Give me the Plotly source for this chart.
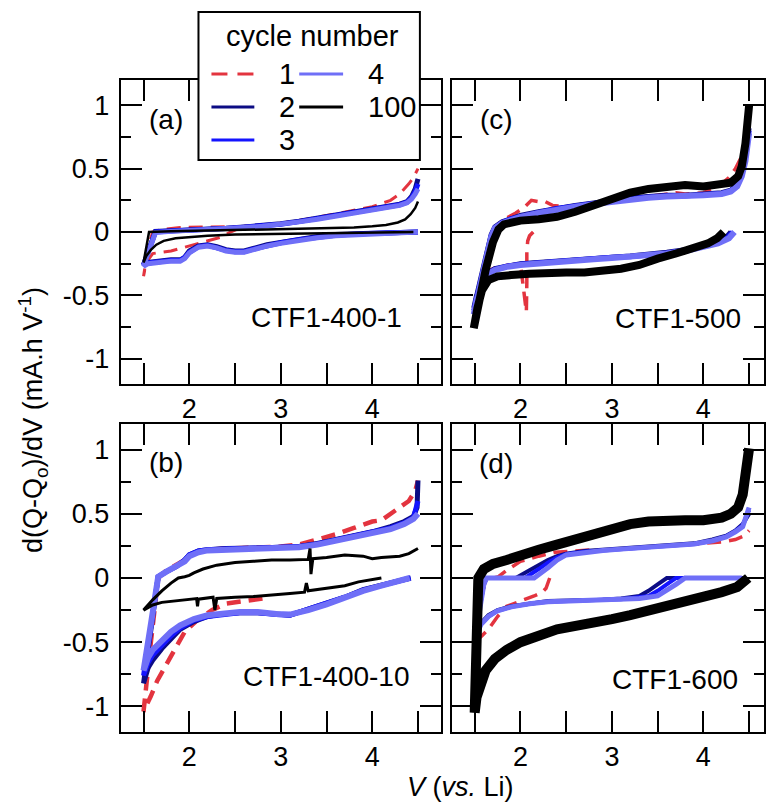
import plotly.graph_objects as go

W, H = 766, 804

# ---------------- data ----------------
x_tick_vals = [2, 3, 4]
x_tick_text = ["2", "3", "4"]
x_minor_vals = [1.5, 2.5, 3.5, 4.5]
y_tick_vals = [-1, -0.5, 0, 0.5, 1]
y_tick_text = ["-1", "-0.5", "0", "0.5", "1"]
y_minor_vals = [-0.75, -0.25, 0.25, 0.75]

cycles = ["1", "2", "3", "4", "100"]
panel_names = ["CTF1-400-1", "CTF1-500", "CTF1-400-10", "CTF1-600"]
panel_tags = ["(a)", "(c)", "(b)", "(d)"]

# ---- Panel (a) CTF1-400-1 ----
a1_v = [2.55, 2.45, 2.35, 2.2, 2.05, 1.9, 1.8, 1.7, 1.6, 1.53, 1.5,
        1.55, 1.6, 1.7, 1.9, 2.2, 2.6, 2.9, 3.2, 3.5, 3.8, 4.0, 4.2, 4.3, 4.4, 4.45, 4.5]
a1_y = [0.03, 0.0, -0.04, -0.07, -0.1, -0.13, -0.15, -0.16, -0.17, -0.24, -0.35,
        -0.12, 0.0, 0.02, 0.035, 0.04, 0.045, 0.06, 0.09, 0.13, 0.17, 0.2, 0.25, 0.3, 0.38, 0.43, 0.5]
a2_v = [4.5, 4.2, 3.9, 3.6, 3.4, 3.2, 3.0, 2.85, 2.7, 2.6, 2.5, 2.4, 2.3, 2.2, 2.1, 2.0, 1.95, 1.9, 1.8, 1.7, 1.6, 1.55, 1.5,
        1.55, 1.6, 1.63, 1.8, 2.0, 2.2, 2.4, 2.6, 2.8, 3.0, 3.2, 3.4, 3.6, 3.8, 4.0, 4.2, 4.3, 4.38, 4.43, 4.47, 4.5]
a2_y = [0.0, -0.005, -0.01, -0.02, -0.035, -0.055, -0.08, -0.1, -0.13, -0.15, -0.15, -0.14, -0.115, -0.1, -0.11, -0.15, -0.2, -0.22, -0.22, -0.23, -0.23, -0.24, -0.26,
        -0.15, -0.03, 0.005, 0.01, 0.015, 0.02, 0.03, 0.04, 0.05, 0.065, 0.085, 0.11, 0.13, 0.155, 0.18, 0.2, 0.22, 0.24, 0.28, 0.34, 0.42]
a3_v = [4.5, 4.2, 3.9, 3.6, 3.4, 3.2, 3.0, 2.85, 2.7, 2.6, 2.5, 2.4, 2.3, 2.2, 2.1, 2.0, 1.95, 1.9, 1.8, 1.7, 1.6, 1.55, 1.5,
        1.55, 1.6, 1.63, 1.8, 2.0, 2.2, 2.4, 2.6, 2.8, 3.0, 3.2, 3.4, 3.6, 3.8, 4.0, 4.2, 4.3, 4.38, 4.43, 4.47, 4.5]
a3_y = [0.0, -0.005, -0.012, -0.025, -0.04, -0.06, -0.085, -0.105, -0.135, -0.155, -0.155, -0.145, -0.12, -0.105, -0.115, -0.16, -0.2, -0.225, -0.225, -0.23, -0.235, -0.245, -0.26,
        -0.16, -0.04, 0.0, 0.008, 0.012, 0.018, 0.028, 0.038, 0.048, 0.062, 0.082, 0.105, 0.128, 0.15, 0.175, 0.195, 0.215, 0.235, 0.27, 0.32, 0.38]
a4_v = [4.5, 4.2, 3.9, 3.6, 3.4, 3.2, 3.0, 2.85, 2.7, 2.6, 2.5, 2.4, 2.3, 2.2, 2.1, 2.0, 1.95, 1.9, 1.8, 1.7, 1.6, 1.55, 1.5,
        1.55, 1.6, 1.63, 1.8, 2.0, 2.2, 2.4, 2.6, 2.8, 3.0, 3.2, 3.4, 3.6, 3.8, 4.0, 4.2, 4.3, 4.38, 4.43, 4.47, 4.5]
a4_y = [0.0, -0.008, -0.015, -0.03, -0.045, -0.065, -0.09, -0.11, -0.14, -0.16, -0.16, -0.15, -0.125, -0.11, -0.12, -0.165, -0.21, -0.23, -0.23, -0.235, -0.24, -0.25, -0.27,
        -0.17, -0.05, -0.005, 0.005, 0.01, 0.015, 0.025, 0.035, 0.045, 0.06, 0.08, 0.1, 0.125, 0.148, 0.17, 0.19, 0.21, 0.23, 0.26, 0.3, 0.34]
a100_v = [4.45, 4.0, 3.5, 3.0, 2.5, 2.2, 2.0, 1.85, 1.72, 1.64, 1.58, 1.53, 1.5,
          1.56, 1.8, 2.2, 2.6, 3.0, 3.4, 3.8, 4.0, 4.15, 4.28, 4.36, 4.42, 4.47, 4.5]
a100_y = [0.0, -0.005, -0.01, -0.015, -0.02, -0.03, -0.04, -0.05, -0.07, -0.1, -0.14, -0.19, -0.24,
          0.0, 0.005, 0.01, 0.015, 0.02, 0.025, 0.035, 0.045, 0.055, 0.075, 0.1, 0.14, 0.19, 0.24]

# ---- Panel (c) CTF1-500 ----
c1_v = [2.14, 2.1, 2.08, 2.07, 2.07, 2.065, 2.0, 1.9, 1.8, 1.7, 1.62, 1.56, 1.52, 1.49,
        1.56, 1.62, 1.68, 1.75, 1.85, 1.95, 2.05, 2.12, 2.2, 2.27, 2.35, 2.5, 2.7, 2.9, 3.1, 3.3, 3.5, 3.7, 3.8, 4.0, 4.1, 4.2, 4.28, 4.35, 4.42, 4.47, 4.5]
c1_y = [0.0, -0.03, -0.07, -0.15, -0.4, -0.63, -0.25, -0.26, -0.27, -0.29, -0.33, -0.4, -0.5, -0.62,
        -0.4, -0.2, -0.02, 0.06, 0.11, 0.15, 0.2, 0.25, 0.24, 0.24, 0.21, 0.2, 0.22, 0.24, 0.25, 0.27, 0.29, 0.31, 0.3, 0.31, 0.34, 0.38, 0.43, 0.5, 0.6, 0.75, 0.93]
c2_v = [4.3, 4.25, 4.15, 4.0, 3.8, 3.6, 3.4, 3.2, 3.0, 2.8, 2.6, 2.4, 2.2, 2.0, 1.85, 1.72, 1.63, 1.57, 1.52, 1.49,
        1.55, 1.62, 1.68, 1.72, 1.8, 1.9, 2.0, 2.2, 2.4, 2.6, 2.8, 3.0, 3.2, 3.4, 3.6, 3.8, 4.0, 4.2, 4.3, 4.37, 4.42, 4.46, 4.5]
c2_y = [0.0, -0.04, -0.08, -0.11, -0.14, -0.16, -0.18, -0.19, -0.2, -0.21, -0.22, -0.23, -0.24, -0.25, -0.27, -0.29, -0.33, -0.4, -0.5, -0.6,
        -0.4, -0.2, -0.02, 0.04, 0.08, 0.11, 0.13, 0.16, 0.19, 0.21, 0.23, 0.25, 0.27, 0.28, 0.29, 0.29, 0.3, 0.31, 0.33, 0.38, 0.47, 0.6, 0.82]
c3_v = [4.32, 4.26, 4.15, 4.0, 3.8, 3.6, 3.4, 3.2, 3.0, 2.8, 2.6, 2.4, 2.2, 2.0, 1.85, 1.72, 1.63, 1.57, 1.52, 1.49,
        1.55, 1.62, 1.68, 1.72, 1.8, 1.9, 2.0, 2.2, 2.4, 2.6, 2.8, 3.0, 3.2, 3.4, 3.6, 3.8, 4.0, 4.2, 4.3, 4.37, 4.42, 4.46, 4.5]
c3_y = [0.0, -0.045, -0.085, -0.115, -0.145, -0.165, -0.18, -0.195, -0.2, -0.21, -0.22, -0.235, -0.245, -0.255, -0.27, -0.295, -0.33, -0.41, -0.52, -0.62,
        -0.42, -0.21, -0.03, 0.035, 0.075, 0.105, 0.125, 0.155, 0.185, 0.205, 0.225, 0.245, 0.265, 0.275, 0.285, 0.285, 0.295, 0.305, 0.325, 0.37, 0.45, 0.58, 0.8]
c4_v = [4.34, 4.28, 4.16, 4.0, 3.8, 3.6, 3.4, 3.2, 3.0, 2.8, 2.6, 2.4, 2.2, 2.0, 1.85, 1.72, 1.63, 1.57, 1.52, 1.49,
        1.55, 1.62, 1.68, 1.72, 1.8, 1.9, 2.0, 2.2, 2.4, 2.6, 2.8, 3.0, 3.2, 3.4, 3.6, 3.8, 4.0, 4.2, 4.3, 4.37, 4.42, 4.46, 4.5]
c4_y = [0.0, -0.05, -0.09, -0.12, -0.15, -0.17, -0.185, -0.2, -0.205, -0.215, -0.225, -0.24, -0.25, -0.26, -0.275, -0.3, -0.34, -0.42, -0.54, -0.65,
        -0.45, -0.23, -0.04, 0.03, 0.07, 0.1, 0.12, 0.15, 0.18, 0.2, 0.22, 0.24, 0.26, 0.27, 0.28, 0.28, 0.29, 0.3, 0.32, 0.36, 0.44, 0.56, 0.78]
c100_v = [4.22, 4.15, 4.05, 3.9, 3.7, 3.5, 3.3, 3.1, 2.9, 2.7, 2.5, 2.3, 2.1, 1.9, 1.75, 1.65, 1.58, 1.53, 1.49,
          1.55, 1.62, 1.7, 1.76, 1.82, 1.9, 2.0, 2.2, 2.4, 2.6, 2.8, 3.0, 3.2, 3.4, 3.6, 3.8, 4.0, 4.2, 4.3, 4.38, 4.42, 4.46, 4.5]
c100_y = [0.0, -0.05, -0.09, -0.13, -0.17, -0.21, -0.26, -0.29, -0.31, -0.32, -0.32, -0.32, -0.33, -0.34, -0.35, -0.38, -0.46, -0.6, -0.76,
          -0.55, -0.3, -0.08, 0.02, 0.06, 0.08, 0.09, 0.1, 0.12, 0.16, 0.21, 0.27, 0.31, 0.34, 0.36, 0.37, 0.36, 0.37, 0.39, 0.44, 0.52, 0.7, 1.0]

# ---- Panel (b) CTF1-400-10 ----
b1_v = [2.8, 2.7, 2.55, 2.4, 2.25, 2.1, 1.95, 1.85, 1.75, 1.65, 1.58, 1.5,
        1.58, 1.66, 1.75, 1.86, 1.95, 2.05, 2.2, 2.4, 2.6, 2.8, 3.0, 3.2, 3.4, 3.6, 3.8, 4.0, 4.1, 4.2, 4.3, 4.4, 4.47, 4.5]
b1_y = [-0.16, -0.17, -0.18, -0.2, -0.25, -0.32, -0.42, -0.55, -0.68, -0.8, -0.92, -1.04,
        -0.5, 0.0, 0.06, 0.1, 0.14, 0.19, 0.22, 0.23, 0.235, 0.24, 0.245, 0.26, 0.3, 0.34, 0.39, 0.44, 0.45, 0.5, 0.56, 0.6, 0.68, 0.76]
b2_v = [4.42, 4.3, 4.1, 3.9, 3.7, 3.5, 3.3, 3.1, 2.95, 2.75, 2.55, 2.35, 2.2, 2.05, 1.9, 1.8, 1.7, 1.6, 1.55, 1.5,
        1.58, 1.66, 1.75, 1.86, 1.95, 2.0, 2.1, 2.2, 2.4, 2.6, 2.8, 3.0, 3.2, 3.4, 3.6, 3.8, 4.0, 4.2, 4.35, 4.45, 4.49, 4.5]
b2_y = [0.0, -0.02, -0.05, -0.09, -0.15, -0.2, -0.24, -0.29, -0.28, -0.27, -0.27, -0.28, -0.3, -0.34, -0.4, -0.47, -0.55, -0.64, -0.7, -0.82,
        -0.4, 0.01, 0.05, 0.09, 0.14, 0.18, 0.21, 0.22, 0.23, 0.23, 0.235, 0.24, 0.245, 0.27, 0.3, 0.33, 0.36, 0.4, 0.44, 0.48, 0.55, 0.76]
b3_v = [4.42, 4.3, 4.1, 3.9, 3.7, 3.5, 3.3, 3.1, 2.95, 2.75, 2.55, 2.35, 2.2, 2.05, 1.9, 1.8, 1.7, 1.6, 1.55, 1.5,
        1.58, 1.66, 1.75, 1.86, 1.95, 2.0, 2.1, 2.2, 2.4, 2.6, 2.8, 3.0, 3.2, 3.4, 3.6, 3.8, 4.0, 4.2, 4.35, 4.45, 4.5]
b3_y = [0.0, -0.02, -0.055, -0.095, -0.15, -0.2, -0.245, -0.29, -0.285, -0.27, -0.27, -0.285, -0.3, -0.33, -0.39, -0.45, -0.52, -0.6, -0.66, -0.76,
        -0.38, 0.01, 0.05, 0.09, 0.14, 0.18, 0.21, 0.22, 0.225, 0.23, 0.235, 0.24, 0.245, 0.265, 0.295, 0.325, 0.355, 0.39, 0.43, 0.47, 0.6]
b4_v = [4.41, 4.3, 4.1, 3.9, 3.7, 3.5, 3.3, 3.1, 2.95, 2.75, 2.55, 2.35, 2.2, 2.05, 1.9, 1.8, 1.7, 1.6, 1.55, 1.5,
        1.58, 1.66, 1.75, 1.86, 1.95, 2.0, 2.1, 2.2, 2.4, 2.6, 2.8, 3.0, 3.2, 3.4, 3.6, 3.8, 4.0, 4.2, 4.35, 4.45, 4.5]
b4_y = [0.0, -0.025, -0.06, -0.1, -0.155, -0.205, -0.25, -0.285, -0.28, -0.265, -0.265, -0.275, -0.29, -0.32, -0.37, -0.42, -0.49, -0.56, -0.62, -0.72,
        -0.36, 0.01, 0.05, 0.09, 0.13, 0.17, 0.2, 0.215, 0.22, 0.225, 0.23, 0.235, 0.24, 0.26, 0.29, 0.32, 0.35, 0.38, 0.42, 0.46, 0.5]
b100_v = [4.1, 4.0, 3.85, 3.7, 3.5, 3.3, 3.28, 3.26, 3.1, 2.9, 2.7, 2.5, 2.3, 2.28, 2.26, 2.1, 2.09, 2.08, 1.9, 1.7, 1.6, 1.5,
          1.6, 1.7, 1.8, 1.88, 1.95, 2.0, 2.05, 2.15, 2.3, 2.5, 2.7, 2.9, 3.1, 3.3, 3.32, 3.33, 3.35, 3.5, 3.7, 3.9, 4.0, 4.1, 4.3, 4.4, 4.5]
b100_y = [0.0, -0.01, -0.03, -0.06, -0.08, -0.1, -0.04, -0.11, -0.12, -0.135, -0.145, -0.15, -0.16, -0.25, -0.15, -0.165, -0.22, -0.16, -0.175, -0.19, -0.21, -0.25,
          -0.17, -0.1, -0.04, 0.0, 0.01, 0.02, 0.04, 0.07, 0.1, 0.12, 0.13, 0.14, 0.14, 0.145, 0.23, 0.03, 0.15, 0.16, 0.18, 0.17, 0.15, 0.16, 0.17, 0.19, 0.23]

# ---- Panel (d) CTF1-600 ----
d1_v = [2.32, 2.3, 2.28, 2.24, 2.15, 2.0, 1.85, 1.75, 1.65, 1.58, 1.5,
        1.55, 1.62, 1.7, 1.76, 1.85, 2.0, 2.2, 2.38, 2.6, 2.8, 3.0, 3.2, 3.4, 3.6, 3.8, 4.0, 4.2, 4.35, 4.45, 4.5]
d1_y = [0.0, -0.04, -0.08, -0.11, -0.14, -0.18, -0.22, -0.3, -0.4, -0.45, -0.5,
        -0.25, 0.0, 0.0, 0.01, 0.06, 0.13, 0.17, 0.2, 0.21, 0.22, 0.22, 0.23, 0.24, 0.25, 0.26, 0.27, 0.28, 0.3, 0.33, 0.37]
d2_v = [4.45, 3.6, 3.5, 3.4, 3.3, 3.1, 2.9, 2.7, 2.5, 2.3, 2.1, 1.9, 1.75, 1.65, 1.57, 1.5,
        1.55, 1.6, 1.63, 1.95, 2.1, 2.2, 2.3, 2.4, 2.5, 2.7, 2.9, 3.1, 3.3, 3.5, 3.7, 3.9, 4.1, 4.25, 4.35, 4.43, 4.5]
d2_y = [0.0, 0.0, -0.05, -0.1, -0.14, -0.16, -0.17, -0.175, -0.175, -0.18, -0.2, -0.22, -0.25, -0.29, -0.35, -0.44,
        -0.25, -0.05, 0.0, 0.0, 0.06, 0.1, 0.14, 0.17, 0.19, 0.21, 0.22, 0.23, 0.24, 0.25, 0.26, 0.27, 0.3, 0.33, 0.37, 0.42, 0.5]
d3_v = [4.45, 3.7, 3.6, 3.5, 3.4, 3.1, 2.9, 2.7, 2.5, 2.3, 2.1, 1.9, 1.75, 1.65, 1.57, 1.5,
        1.55, 1.6, 1.63, 2.05, 2.2, 2.3, 2.4, 2.5, 2.7, 2.9, 3.1, 3.3, 3.5, 3.7, 3.9, 4.1, 4.25, 4.35, 4.43, 4.5]
d3_y = [0.0, 0.0, -0.05, -0.1, -0.14, -0.165, -0.17, -0.175, -0.18, -0.185, -0.2, -0.225, -0.255, -0.3, -0.36, -0.46,
        -0.26, -0.05, 0.0, 0.0, 0.07, 0.12, 0.16, 0.185, 0.205, 0.215, 0.225, 0.235, 0.245, 0.255, 0.265, 0.29, 0.325, 0.365, 0.41, 0.53]
d4_v = [4.42, 3.8, 3.7, 3.6, 3.5, 3.3, 3.1, 2.9, 2.7, 2.5, 2.3, 2.1, 1.9, 1.75, 1.65, 1.57, 1.5,
        1.55, 1.6, 1.63, 2.15, 2.3, 2.4, 2.5, 2.7, 2.9, 3.1, 3.3, 3.5, 3.7, 3.9, 4.1, 4.25, 4.35, 4.43, 4.5]
d4_y = [0.0, 0.0, -0.05, -0.1, -0.14, -0.16, -0.165, -0.17, -0.175, -0.18, -0.185, -0.2, -0.225, -0.255, -0.3, -0.36, -0.47,
        -0.27, -0.05, 0.0, 0.0, 0.08, 0.14, 0.18, 0.2, 0.215, 0.225, 0.235, 0.245, 0.255, 0.265, 0.29, 0.32, 0.36, 0.4, 0.55]
d100_v = [4.49, 4.45, 4.37, 4.2, 4.0, 3.8, 3.6, 3.4, 3.2, 3.0, 2.8, 2.6, 2.4, 2.2, 2.0, 1.85, 1.72, 1.62, 1.56, 1.52, 1.5,
          1.52, 1.54, 1.6, 1.7, 1.85, 2.0, 2.2, 2.4, 2.6, 2.8, 3.0, 3.2, 3.4, 3.6, 3.8, 4.0, 4.2, 4.3, 4.38, 4.43, 4.47, 4.5]
d100_y = [0.0, -0.03, -0.07, -0.11, -0.15, -0.19, -0.23, -0.26, -0.29, -0.32, -0.35, -0.37, -0.4, -0.45, -0.5, -0.56, -0.63, -0.72, -0.82, -0.93, -1.05,
          -0.6, 0.0, 0.07, 0.11, 0.14, 0.18, 0.22, 0.26, 0.3, 0.35, 0.38, 0.42, 0.44, 0.45, 0.45, 0.45, 0.47, 0.5, 0.55, 0.65, 0.8, 1.01]

# ---------------- styling ----------------
colors = {"1": "#e3343f", "2": "#0c0c84", "3": "#1414ff", "4": "#6f6ff7", "100": "#000000"}
FONT = "Liberation Sans, Arial, Helvetica, sans-serif"

panels = [
    ("x", "y", {"1": (a1_v, a1_y), "2": (a2_v, a2_y), "3": (a3_v, a3_y), "4": (a4_v, a4_y), "100": (a100_v, a100_y)},
     {"1": 3, "2": 5, "3": 5, "4": 5, "100": 2.5}),
    ("x2", "y2", {"1": (c1_v, c1_y), "2": (c2_v, c2_y), "3": (c3_v, c3_y), "4": (c4_v, c4_y), "100": (c100_v, c100_y)},
     {"1": 3.5, "2": 5, "3": 5, "4": 6, "100": 8}),
    ("x3", "y3", {"1": (b1_v, b1_y), "2": (b2_v, b2_y), "3": (b3_v, b3_y), "4": (b4_v, b4_y), "100": (b100_v, b100_y)},
     {"1": 4.5, "2": 5, "3": 5, "4": 6, "100": 3}),
    ("x4", "y4", {"1": (d1_v, d1_y), "2": (d2_v, d2_y), "3": (d3_v, d3_y), "4": (d4_v, d4_y), "100": (d100_v, d100_y)},
     {"1": 3.5, "2": 4, "3": 4, "4": 5, "100": 10}),
]

fig = go.Figure()
for xa, ya, data, widths in panels:
    for c in cycles:
        v, y = data[c]
        fig.add_trace(go.Scatter(
            x=v, y=y, xaxis=xa, yaxis=ya, mode="lines", name=c, showlegend=False,
            line=dict(color=colors[c], width=widths[c],
                      dash="14px,8px" if c == "1" else "solid"),
            hoverinfo="skip"))

def px(x):
    return x / W

def py(y):
    return 1 - y / H

LX = (121, 442)
RX = (453, 766)
TY = (80, 384)
BY = (424, 732)
ppu = (LX[1] - LX[0]) / 3.5
left_range = [1.25, 4.75]
right_range = [1.25, 1.25 + (RX[1] - RX[0]) / ppu]

def xax(dom, rng, anchor):
    return dict(domain=[px(dom[0]), px(dom[1])], range=rng, anchor=anchor,
                tickmode="array", tickvals=x_tick_vals, ticktext=x_tick_text,
                ticks="inside", ticklen=21, tickwidth=1.5, tickcolor="black",
                minor=dict(tickvals=x_minor_vals, ticks="inside", ticklen=21, tickwidth=1.5, tickcolor="black"),
                showline=True, linecolor="black", linewidth=2, mirror="allticks",
                showgrid=False, zeroline=False, ticklabelstandoff=0,
                tickfont=dict(family=FONT, size=27, color="black"))

def yax(dom, anchor, labels):
    return dict(domain=[py(dom[1]), py(dom[0])], range=[-1.2, 1.2], anchor=anchor,
                tickmode="array", tickvals=y_tick_vals, ticktext=y_tick_text,
                ticks="inside", ticklen=21, tickwidth=1.5, tickcolor="black",
                minor=dict(tickvals=y_minor_vals, ticks="inside", ticklen=10, tickwidth=1.5, tickcolor="black"),
                showline=True, linecolor="black", linewidth=2, mirror="allticks",
                showgrid=False, zeroline=False, showticklabels=labels, ticklabelstandoff=4,
                tickfont=dict(family=FONT, size=27, color="black"))

fig.update_layout(
    width=W, height=H, margin=dict(l=0, r=0, t=0, b=0),
    paper_bgcolor="white", plot_bgcolor="white", showlegend=False,
    xaxis=xax(LX, left_range, "y"), yaxis=yax(TY, "x", True),
    xaxis2=xax(RX, right_range, "y2"), yaxis2=yax(TY, "x2", False),
    xaxis3=xax(LX, left_range, "y3"), yaxis3=yax(BY, "x3", True),
    xaxis4=xax(RX, right_range, "y4"), yaxis4=yax(BY, "x4", False),
)

annotations = []
tag_pos = [(147, 120), (479, 120), (147, 462), (478, 463)]
name_pos = [(405, 317), (745, 319), (413, 676), (742, 679)]
for i in range(4):
    annotations.append(dict(text=panel_tags[i], x=px(tag_pos[i][0]), y=py(tag_pos[i][1]), xref="paper", yref="paper",
                            xanchor="left", yanchor="middle", showarrow=False,
                            font=dict(family=FONT, size=28, color="black")))
    annotations.append(dict(text=panel_names[i], x=px(name_pos[i][0]), y=py(name_pos[i][1]), xref="paper", yref="paper",
                            xanchor="right", yanchor="middle", showarrow=False,
                            font=dict(family=FONT, size=28, color="black")))

annotations.append(dict(text="<i>V</i> (<i>vs.</i> Li)", x=px(462), y=py(787), xref="paper", yref="paper",
                        xanchor="center", yanchor="middle", showarrow=False,
                        font=dict(family=FONT, size=27, color="black")))
annotations.append(dict(text="d(Q-Q<sub>o</sub>)/dV (mA.h V<sup>-1</sup>)", x=px(33), y=py(420),
                        xref="paper", yref="paper", xanchor="center", yanchor="middle", textangle=-90,
                        showarrow=False, font=dict(family=FONT, size=27, color="black")))

shapes = [dict(type="rect", xref="paper", yref="paper", x0=px(199), x1=px(421), y0=py(160), y1=py(12),
               line=dict(color="black", width=2), fillcolor="white", layer="above")]
annotations.append(dict(text="cycle number", x=px(313), y=py(36), xref="paper", yref="paper",
                        xanchor="center", yanchor="middle", showarrow=False,
                        font=dict(family=FONT, size=29, color="black")))
legend_items = [("1", 212, 255, 278, 74), ("2", 212, 255, 278, 107), ("3", 212, 255, 278, 140),
                ("4", 300, 344, 367, 74), ("100", 300, 344, 367, 107)]
for c, lx0, lx1, tx, ly in legend_items:
    shapes.append(dict(type="line", xref="paper", yref="paper", x0=px(lx0), x1=px(lx1), y0=py(ly), y1=py(ly),
                       line=dict(color=colors[c], width=3, dash="16px,10px" if c == "1" else "solid"), layer="above"))
    annotations.append(dict(text=c, x=px(tx), y=py(ly), xref="paper", yref="paper",
                            xanchor="left", yanchor="middle", showarrow=False,
                            font=dict(family=FONT, size=29, color="black")))

fig.update_layout(annotations=annotations, shapes=shapes)
fig.write_html("out.html")
